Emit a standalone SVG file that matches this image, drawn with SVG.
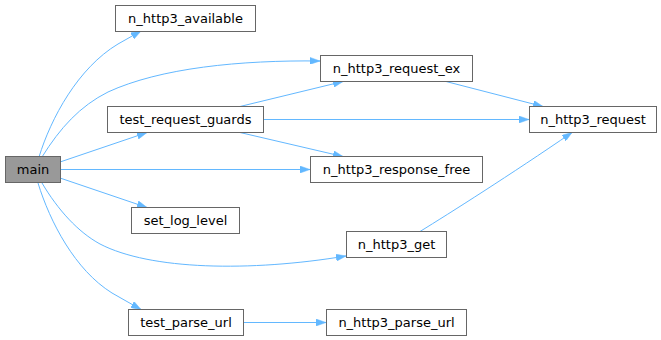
<svg xmlns="http://www.w3.org/2000/svg" width="661" height="340" viewBox="0 0 661 340">
<style>
.node rect{fill:#ffffff;stroke:#666666;stroke-width:1}
.node.root rect{fill:#999999}
.node text{font-family:"DejaVu Sans",sans-serif;font-size:13px;text-anchor:middle;fill:#000000}
.edges path{fill:none;stroke:#63b8ff;stroke-width:1;marker-end:url(#arr)}
</style>
<defs>
<marker id="arr" viewBox="0 0 10 7" refX="10" refY="3.5" markerWidth="10" markerHeight="7" markerUnits="userSpaceOnUse" orient="auto">
<path d="M0,0 L10,3.5 L0,7 z" fill="#63b8ff" stroke="#63b8ff" stroke-width="0.5"/>
</marker>
</defs>
<rect width="661" height="340" fill="#ffffff"/>
<g class="edges">
<path d="M39,157 C51,118 78,68 118,44 L141,31"/>
<path d="M42,157 C60,128 80,106 108,92 C160,68 240,60 320,61"/>
<path d="M60,162 L147,132.5"/>
<path d="M60,169.5 L310,169.5"/>
<path d="M60,178 L147,207.5"/>
<path d="M42,183 C58,210 78,232 100,244 C150,270 250,272 346,256"/>
<path d="M38,183 C50,222 75,270 112,293 L141,309.5"/>
<path d="M240,106.5 L343,81.5"/>
<path d="M263,119.5 L529,119.5"/>
<path d="M240,132.5 L343,156.5"/>
<path d="M446,81.5 L543,106.5"/>
<path d="M420,231.5 C450,213 510,175 572,132.5"/>
<path d="M243,322.5 L326,322.5"/>
</g>
<g id="node-main" class="node root"><rect x="5.5" y="156.5" width="55" height="26"/><text x="33" y="174">main</text></g>
<g id="node-n_http3_available" class="node"><rect x="115.5" y="5.5" width="140" height="26"/><text x="185.5" y="23">n_http3_available</text></g>
<g id="node-n_http3_request_ex" class="node"><rect x="320.5" y="55.5" width="152" height="26"/><text x="396.5" y="73">n_http3_request_ex</text></g>
<g id="node-test_request_guards" class="node"><rect x="107.5" y="106.5" width="156" height="26"/><text x="185.5" y="124">test_request_guards</text></g>
<g id="node-n_http3_request" class="node"><rect x="529.5" y="106.5" width="127" height="26"/><text x="593" y="124">n_http3_request</text></g>
<g id="node-n_http3_response_free" class="node"><rect x="310.5" y="156.5" width="172" height="26"/><text x="396.5" y="174">n_http3_response_free</text></g>
<g id="node-set_log_level" class="node"><rect x="131.5" y="207.5" width="108" height="26"/><text x="185.5" y="225">set_log_level</text></g>
<g id="node-n_http3_get" class="node"><rect x="346.5" y="231.5" width="100" height="26"/><text x="396.5" y="249">n_http3_get</text></g>
<g id="node-test_parse_url" class="node"><rect x="128.5" y="309.5" width="115" height="26"/><text x="186" y="327">test_parse_url</text></g>
<g id="node-n_http3_parse_url" class="node"><rect x="326.5" y="309.5" width="140" height="26"/><text x="396.5" y="327">n_http3_parse_url</text></g>
</svg>
